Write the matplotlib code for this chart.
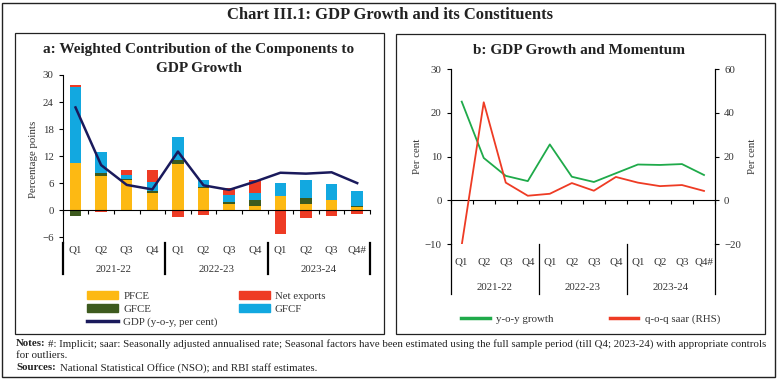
import numpy as np
import matplotlib
matplotlib.use("Agg")
import matplotlib.pyplot as plt
from matplotlib.patches import Rectangle, Patch
from matplotlib.lines import Line2D

plt.rcParams['font.family'] = ['Liberation Serif', 'DejaVu Serif']

W, H = 780, 381

# Data
quarters = ['Q1', 'Q2', 'Q3', 'Q4', 'Q1', 'Q2', 'Q3', 'Q4', 'Q1', 'Q2', 'Q3', 'Q4#']
years = ['2021-22', '2022-23', '2023-24']

pfce = [10.4, 7.6, 6.7, 3.7, 10.2, 4.9, 1.3, 0.9, 3.1, 1.3, 2.2, 0.6]
gfce = [-1.3, 0.6, 0.1, 0.5, 0.9, 0.2, 0.5, 1.3, 0.0, 1.4, 0.0, 0.3]
gfcf = [16.9, 4.8, 1.0, 2.1, 5.1, 1.5, 1.5, 1.6, 3.0, 4.0, 3.5, 3.4]
net_exports = [0.4, -0.4, 1.1, 2.7, -1.5, -1.0, 1.7, 2.9, -5.4, -1.8, -1.4, -0.8]
gdp = [22.8, 10.0, 5.6, 4.6, 13.0, 5.5, 4.5, 6.3, 8.3, 8.1, 8.4, 6.0]

yoy = [22.6, 9.7, 5.6, 4.4, 12.8, 5.4, 4.2, 6.2, 8.2, 8.1, 8.3, 5.8]
qoq_saar = [-20.5, 44.9, 8.1, 2.1, 3.0, 7.9, 4.4, 10.7, 8.1, 6.5, 7.0, 4.3]

C_PFCE = '#FDB913'
C_GFCE = '#3D5A1E'
C_NX = '#EE3B24'
C_GFCF = '#12A8E0'
C_GDP = '#1A1A5C'
C_YOY = '#1FAA4A'
C_QOQ = '#EE3B24'
TXT = '#333333'


def fx(px):
    return px / W


def fy(py):
    return 1 - py / H


def add_axes_px(fig, x0, y_top, x1, y_bot):
    return fig.add_axes([fx(x0), fy(y_bot), fx(x1) - fx(x0), fy(y_top) - fy(y_bot)])


def category_axis(ax, lab_y, year_y, sep_bot, sep_lw):
    n = len(quarters)
    ax.set_xlim(-0.5, n - 0.5)
    ax.set_xticks(np.arange(n + 1) - 0.5)
    ax.set_xticklabels([])
    ax.tick_params(axis='x', direction='out', length=3, width=0.8)
    trans = ax.get_xaxis_transform()
    for i, q in enumerate(quarters):
        ax.text(i, lab_y, q, transform=trans, ha='center', va='center',
                fontsize=7.8, color=TXT, clip_on=False)
    for j, yr in enumerate(years):
        ax.text(4 * j + 1.5, year_y, yr, transform=trans, ha='center', va='center',
                fontsize=7.8, color=TXT, clip_on=False)
    for b in [-0.5, 3.5, 7.5, 11.5]:
        ax.plot([b, b], [0, sep_bot], transform=trans, color='black',
                lw=sep_lw, clip_on=False)


fig = plt.figure(figsize=(W / 100, H / 100), dpi=100)

# frames
for (x0, y0, x1, y1, lw) in [(2, 3, 775, 377, 1.0), (15.5, 32.5, 383.5, 334, 0.9),
                             (396, 33.5, 765, 334, 0.9)]:
    fig.add_artist(Rectangle((fx(x0), fy(y1)), fx(x1) - fx(x0), fy(y0) - fy(y1),
                             transform=fig.transFigure, fill=False, lw=lw, color='#222222'))

fig.text(fx(390), fy(15), 'Chart III.1: GDP Growth and its Constituents',
         ha='center', va='center', fontsize=12, fontweight='bold', color='#222222')

# ---- panel a
ax1 = add_axes_px(fig, 62.7, 75, 370, 243)
x = np.arange(len(quarters))
pos_base = np.zeros(len(x))
neg_base = np.zeros(len(x))
for vals, col in [(pfce, C_PFCE), (gfce, C_GFCE), (gfcf, C_GFCF), (net_exports, C_NX)]:
    v = np.array(vals)
    base = np.where(v >= 0, pos_base, neg_base)
    ax1.bar(x, v, 0.45, bottom=base, color=col, zorder=2)
    pos_base += np.where(v >= 0, v, 0)
    neg_base += np.where(v < 0, v, 0)
ax1.plot(x, gdp, color=C_GDP, lw=1.8, zorder=3)

ax1.set_ylim(-7.3, 30)
ax1.set_yticks([-6, 0, 6, 12, 18, 24, 30])
ax1.tick_params(axis='y', labelsize=7.8, labelcolor=TXT, length=3, width=0.8)
ax1.spines['top'].set_visible(False)
ax1.spines['right'].set_visible(False)
ax1.spines['bottom'].set_position(('data', 0))
ax1.set_ylabel('Percentage points', fontsize=7.8, color=TXT, labelpad=3)
category_axis(ax1, -0.042, -0.155, -0.185, 1.6)

fig.text(fx(199), fy(50), 'a: Weighted Contribution of the Components to',
         ha='center', va='center', fontsize=11, fontweight='bold', color='#222222')
fig.text(fx(199), fy(68), 'GDP Growth',
         ha='center', va='center', fontsize=11, fontweight='bold', color='#222222')

handles_a = [Patch(color=C_PFCE), Patch(color=C_GFCE), Line2D([], [], color=C_GDP, lw=2.5),
             Patch(color=C_NX), Patch(color=C_GFCF)]
labels_a = ['PFCE', 'GFCE', 'GDP (y-o-y, per cent)', 'Net exports', 'GFCF']
fig.legend(handles_a, labels_a, loc='upper left', bbox_to_anchor=(fx(82), fy(286)),
           ncol=2, frameon=False, fontsize=7.8, handlelength=2.8, handleheight=0.7,
           handletextpad=0.5, columnspacing=2.0, labelspacing=0.3, borderpad=0,
           labelcolor=TXT)

# ---- panel b
ax2 = add_axes_px(fig, 450.7, 69.3, 715, 244)
ax2.plot(x, yoy, color=C_YOY, lw=1.3, zorder=3)
ax2.set_ylim(-10, 30)
ax2.set_yticks([-10, 0, 10, 20, 30])
ax2.tick_params(axis='y', labelsize=7.8, labelcolor=TXT, length=3, width=0.8)
ax2.spines['top'].set_visible(False)
ax2.spines['bottom'].set_position(('data', 0))
ax2.set_ylabel('Per cent', fontsize=7.8, color=TXT, labelpad=2)
category_axis(ax2, -0.105, -0.248, -0.286, 0.9)

ax3 = ax2.twinx()
ax3.plot(x, qoq_saar, color=C_QOQ, lw=1.3, zorder=3)
ax3.set_ylim(-20, 60)
ax3.set_yticks([-20, 0, 20, 40, 60])
ax3.tick_params(axis='y', labelsize=7.8, labelcolor=TXT, length=3, width=0.8)
ax3.spines['top'].set_visible(False)
ax3.spines['bottom'].set_visible(False)
ax3.set_ylabel('Per cent', fontsize=7.8, color=TXT, labelpad=5)

fig.text(fx(579), fy(50), 'b: GDP Growth and Momentum',
         ha='center', va='center', fontsize=11, fontweight='bold', color='#222222')

handles_b = [Line2D([], [], color=C_YOY, lw=2.5), Line2D([], [], color=C_QOQ, lw=2.5)]
fig.legend(handles_b, ['y-o-y growth', 'q-o-q saar (RHS)'], loc='center left',
           bbox_to_anchor=(fx(456), fy(319)), ncol=2, frameon=False, fontsize=7.8,
           handlelength=2.6, handletextpad=0.6, columnspacing=5.2, borderpad=0,
           labelcolor=TXT)

# ---- notes
fig.text(fx(16), fy(344), 'Notes:', fontsize=7.8, fontweight='bold', va='center', color='#222222')
fig.text(fx(48), fy(344), '#: Implicit; saar: Seasonally adjusted annualised rate; Seasonal factors have been '
         'estimated using the full sample period (till Q4; 2023-24) with appropriate controls',
         fontsize=7.8, va='center', color='#222222')
fig.text(fx(16), fy(356), 'for outliers.', fontsize=7.8, va='center', color='#222222')
fig.text(fx(16), fy(368), 'Sources:', fontsize=7.8, fontweight='bold', va='center', color='#222222')
fig.text(fx(60), fy(368), 'National Statistical Office (NSO); and RBI staff estimates.',
         fontsize=7.8, va='center', color='#222222')

fig.savefig('out.png', dpi=100)
